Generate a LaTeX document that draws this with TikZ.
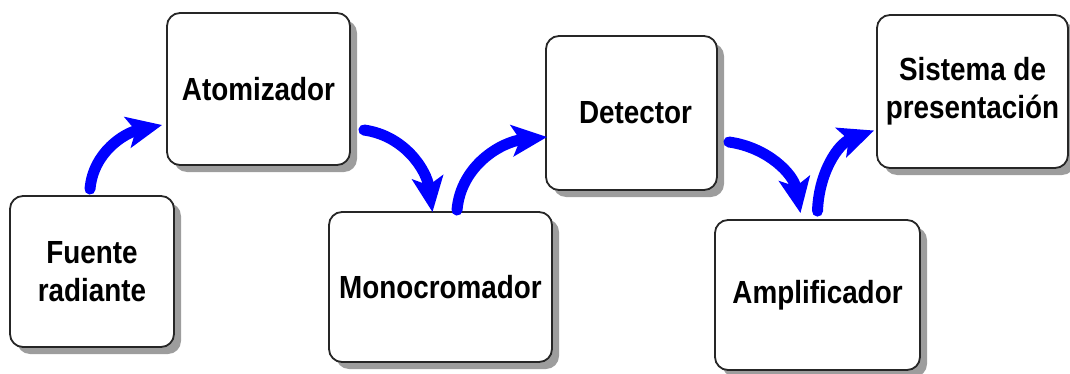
\documentclass[tikz,border=0pt]{standalone}
\usepackage{fontspec}
\setmainfont[FakeStretch=0.87]{Liberation Sans}
\usetikzlibrary{arrows.meta,shadows,calc}
\begin{document}
\begin{tikzpicture}[x=1pt,y=1pt,
  box/.style={draw=black!85, line width=1.8pt, rounded corners=13pt, fill=white,
    align=center, inner sep=0pt,
    font=\bfseries\fontsize{32}{38}\selectfont,
    drop shadow={shadow xshift=7pt, shadow yshift=-7pt, fill=black!45, opacity=0.85}},
  flow/.style={draw=blue, line width=11pt, line cap=round,
    -{Stealth[length=35pt, width=31pt, inset=8pt]}}
]
\useasboundingbox (0,0) rectangle (1070,373);
\node[box, minimum width=164pt, minimum height=151pt] (fuente) at (92,101.5) {Fuente\\radiante};
\node[box, minimum width=183pt, minimum height=152pt] (atom) at (258.5,284) {Atomizador};
\node[box, minimum width=223pt, minimum height=150pt] (mono) at (440.5,86) {Monocromador};
\node[box, minimum width=171pt, minimum height=154pt] (det) at (631.5,260) {\hspace*{8pt}Detector};
\node[box, minimum width=205pt, minimum height=150pt] (amp) at (817.5,78) {Amplificador};
\node[box, minimum width=191pt, minimum height=153pt] (sis) at (972.5,281.5) {Sistema de\\presentación};

\draw[flow] ($(fuente.north)+(-2,6)$) to[out=85,in=192] ($(atom.west)+(-4,-36)$);
\draw[flow] ($(atom.east)+(13,-41)$) to[out=-8,in=98] ($(mono.north)+(-8,-1)$);
\draw[flow] ($(mono.north)+(16.5,1)$) to[out=85,in=186] ($(det.west)+(2,-24)$);
\draw[flow] ($(det.east)+(11,-29)$) to[out=-8,in=100] ($(amp.north)+(-17,6)$);
\draw[flow] ($(amp.north)+(0,8)$) to[out=88,in=200] ($(sis.west)+(-2,-39)$);
\end{tikzpicture}
\end{document}
